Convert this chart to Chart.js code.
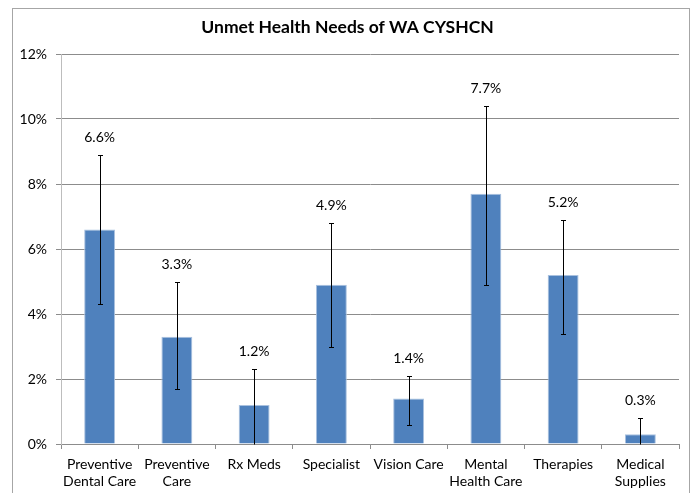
<!DOCTYPE html>
<html>
<head>
<meta charset="utf-8">
<script src="https://cdn.jsdelivr.net/npm/chart.js@4"></script>
<style>
  html, body { margin: 0; padding: 0; background: #ffffff; }
  #c { display: block; }
</style>
</head>
<body>
<canvas id="c" width="695" height="493"></canvas>
<script>
const chartTitle = 'Unmet Health Needs of WA CYSHCN';
const categories = [
  ['Preventive', 'Dental Care'],
  ['Preventive', 'Care'],
  'Rx Meds',
  'Specialist',
  'Vision Care',
  ['Mental', 'Health Care'],
  'Therapies',
  ['Medical', 'Supplies']
];
const values = [6.6, 3.3, 1.2, 4.9, 1.4, 7.7, 5.2, 0.3];
const errorLow = [4.3, 1.7, 0.0, 3.0, 0.6, 4.9, 3.4, 0.0];
const errorHigh = [8.9, 5.0, 2.3, 6.8, 2.1, 10.4, 6.9, 0.8];
const yTicks = [0, 2, 4, 6, 8, 10, 12];

const FONT = 'Lato, "Open Sans", sans-serif';

const framePlugin = {
  id: 'frame',
  beforeDraw(chart) {
    const ctx = chart.ctx;
    ctx.save();
    ctx.fillStyle = '#ffffff';
    ctx.fillRect(0, 0, chart.width, chart.height);
    ctx.strokeStyle = '#a6a6a6';
    ctx.lineWidth = 1;
    ctx.strokeRect(12.5, 8.5, 677, 500);
    ctx.restore();
  }
};

const errorBarPlugin = {
  id: 'errorBars',
  afterDatasetsDraw(chart) {
    const ctx = chart.ctx;
    const y = chart.scales.y;
    const meta = chart.getDatasetMeta(0);
    ctx.save();
    meta.data.forEach((bar, i) => {
      const x = Math.round(bar.x) + 0.5;
      const yl = Math.round(y.getPixelForValue(errorLow[i])) + 0.5;
      const yh = Math.round(y.getPixelForValue(errorHigh[i])) + 0.5;
      ctx.strokeStyle = '#000000';
      ctx.lineWidth = 1;
      ctx.beginPath();
      ctx.moveTo(x, yl); ctx.lineTo(x, yh);
      ctx.moveTo(x - 2.5, yh); ctx.lineTo(x + 2.5, yh);
      if (errorLow[i] > 0) { ctx.moveTo(x - 2.5, yl); ctx.lineTo(x + 2.5, yl); }
      ctx.stroke();
      ctx.fillStyle = '#000000';
      ctx.font = '14px ' + FONT;
      ctx.textAlign = 'center';
      ctx.textBaseline = 'middle';
      ctx.fillText(values[i].toFixed(1) + '%', bar.x, yh - 18);
    });
    ctx.restore();
  }
};

new Chart(document.getElementById('c'), {
  type: 'bar',
  data: {
    labels: categories,
    datasets: [{
      data: values,
      backgroundColor: '#4f81bd',
      borderColor: '#a9c1df',
      borderWidth: 1,
      barPercentage: 0.4,
      categoryPercentage: 1.0
    }]
  },
  options: {
    responsive: false,
    animation: false,
    layout: { padding: { left: 16, right: 16, top: 0, bottom: 0 } },
    plugins: {
      legend: { display: false },
      tooltip: { enabled: false },
      title: {
        display: true,
        text: chartTitle,
        color: '#000000',
        font: { family: FONT, size: 17.5, weight: 'bold' },
        padding: { top: 16.5, bottom: 16.5 }
      }
    },
    scales: {
      x: {
        grid: { display: true, drawOnChartArea: false, drawTicks: true, tickLength: 5, color: '#8c8c8c', offset: true },
        border: { color: '#8c8c8c' },
        ticks: { color: '#000000', font: { family: FONT, size: 14 }, padding: 7, maxRotation: 0, autoSkip: false },
        afterFit(scale) { scale.height = 49; }
      },
      y: {
        min: 0, max: 12,
        afterBuildTicks(scale) { scale.ticks = yTicks.map(v => ({ value: v })); },
        grid: { color: '#8c8c8c', tickLength: 5 },
        border: { color: '#bdbdbd' },
        ticks: { color: '#000000', font: { family: FONT, size: 14 }, padding: 9, callback: v => v + '%' },
        afterFit(scale) { scale.width = 45; }
      }
    }
  },
  plugins: [framePlugin, errorBarPlugin]
});
</script>
</body>
</html>
